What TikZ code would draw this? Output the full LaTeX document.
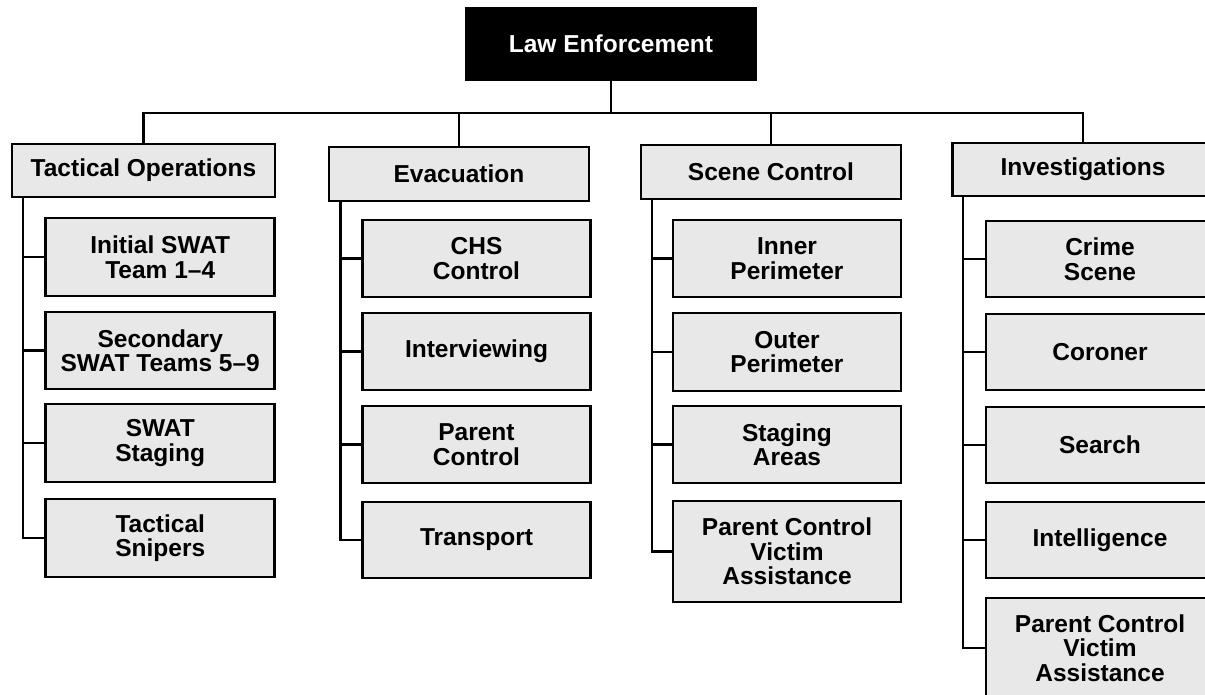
\documentclass[tikz,border=0pt]{standalone}
\usepackage{fontspec}
\setmainfont{Liberation Sans}
\usetikzlibrary{calc}
\begin{document}
\begin{tikzpicture}[x=1pt,y=-1pt,
  txt/.style={font=\fontsize{24.5}{24.5}\selectfont\bfseries, align=center, inner sep=0pt},
  topbox/.style={txt, draw=black, fill=black, text=white, line width=2pt, minimum width=290pt, minimum height=72pt},
  headbox/.style={txt, draw=black, fill=black!9, line width=2.8pt, minimum width=260pt, minimum height=53pt},
  childbox/.style={txt, draw=black, fill=black!9, line width=2.8pt, minimum width=228pt},
  conn/.style={draw=black, line width=2.3pt}]
\useasboundingbox (0,0) rectangle (1205,695);
\clip (0,0) rectangle (1205,695);
\fill[white] (0,0) rectangle (1205,695);

% top
\node[topbox] (le) at (611,44) {Law Enforcement};
\coordinate (bus) at (611,113);

% headers
\node[headbox, minimum width=263pt] (to) at (143.5,170.5) {Tactical Operations};
\node[headbox, minimum height=54pt] (ev) at (459,174) {Evacuation};
\node[headbox, minimum height=54pt] (sc) at (771,172) {Scene Control};
\node[headbox, minimum width=261pt] (in) at (1083,169.5) {Investigations};

% Tactical Operations children
\node[childbox, minimum width=229pt, minimum height=78pt] (to1) at (160.25,257) {Initial SWAT\\Team 1–4};
\node[childbox, minimum width=229pt, minimum height=77pt] (to2) at (160.25,350.5) {Secondary\\SWAT Teams 5–9};
\node[childbox, minimum width=229pt, minimum height=78pt] (to3) at (160.25,443) {SWAT\\Staging};
\node[childbox, minimum width=229pt, minimum height=78pt] (to4) at (160.25,538) {Tactical\\Snipers};

% Evacuation children
\node[childbox, minimum height=77pt] (ev1) at (476.5,258.5) {CHS\\Control};
\node[childbox, minimum height=77pt] (ev2) at (476.5,351.5) {Interviewing};
\node[childbox, minimum height=77pt] (ev3) at (476.5,444.5) {Parent\\Control};
\node[childbox, minimum height=76pt] (ev4) at (476.5,540) {Transport};

% Scene Control children
\node[childbox, minimum height=77pt] (sc1) at (787,258.5) {Inner\\Perimeter};
\node[childbox, minimum height=78pt] (sc2) at (787,352) {Outer\\Perimeter};
\node[childbox, minimum height=77pt] (sc3) at (787,444.5) {Staging\\Areas};
\node[childbox, minimum height=101pt] (sc4) at (787,551.5) {Parent Control\\Victim\\Assistance};

% Investigations children
\node[childbox, minimum height=76pt] (in1) at (1100,259) {Crime\\Scene};
\node[childbox, minimum height=76pt] (in2) at (1100,352) {Coroner};
\node[childbox, minimum height=76pt] (in3) at (1100,445) {Search};
\node[childbox, minimum height=76pt] (in4) at (1100,540) {Intelligence};
\node[childbox, minimum height=100pt] (in5) at (1100,648) {Parent Control\\Victim\\Assistance};

% top bus
\draw[conn] (le.south) -- (bus);
\draw[conn] (to.north) |- (bus) -| (in.north);
\draw[conn] (ev.north) -- (ev.north |- bus);
\draw[conn] (sc.north) -- (sc.north |- bus);

% spines
\coordinate (tosp) at ($(to.south west)+(12.5,0)$);
\coordinate (evsp) at ($(ev.south west)+(13,0)$);
\coordinate (scsp) at ($(sc.south west)+(12.5,0)$);
\coordinate (insp) at ($(in.south west)+(12,0)$);

\draw[conn] (tosp) |- (to4.west);
\foreach \c in {to1,to2,to3} \draw[conn] (\c.west) -- (\c.west -| tosp);
\draw[conn] (evsp) |- (ev4.west);
\foreach \c in {ev1,ev2,ev3} \draw[conn] (\c.west) -- (\c.west -| evsp);
\draw[conn] (scsp) |- (sc4.west);
\foreach \c in {sc1,sc2,sc3} \draw[conn] (\c.west) -- (\c.west -| scsp);
\draw[conn] (insp) |- (in5.west);
\foreach \c in {in1,in2,in3,in4} \draw[conn] (\c.west) -- (\c.west -| insp);
\end{tikzpicture}
\end{document}
